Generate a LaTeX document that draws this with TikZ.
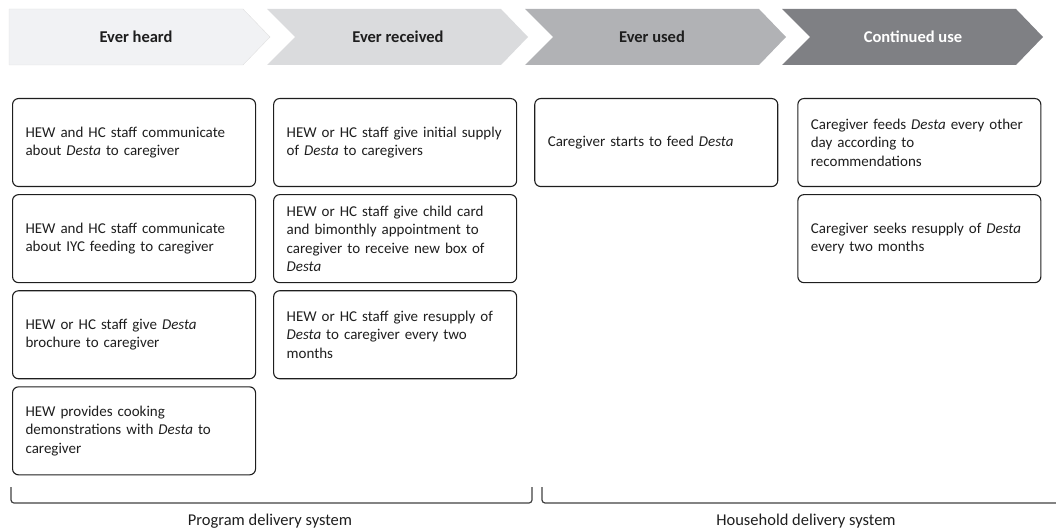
\documentclass[tikz,border=0pt]{standalone}
\usepackage{fontspec}
\setmainfont{Carlito}
\usepackage{tikz}
\usetikzlibrary{positioning}
\definecolor{stepA}{HTML}{F1F2F4}
\definecolor{stepB}{HTML}{DADBDD}
\definecolor{stepC}{HTML}{B1B2B5}
\definecolor{stepD}{HTML}{7F8084}
\definecolor{ink}{HTML}{1E1E1E}

\begin{document}
\begin{tikzpicture}[x=1pt, y=-1pt]
\tikzstyle{card}=[draw=ink, line width=1.1pt, rounded corners=6pt, rectangle, text width=217pt, inner sep=0pt, inner xsep=13pt, minimum height=88pt, align=left, text=ink, font=\fontsize{15}{18.5}\selectfont]
\tikzstyle{head}=[text=ink, font=\bfseries\fontsize{16.5}{20}\selectfont]
\tikzstyle{bracket}=[draw=black!75, line width=1.2pt, rounded corners=3pt]
\tikzstyle{system}=[text=ink, font=\fontsize{16.5}{19}\selectfont]
\useasboundingbox (0,0) rectangle (1056,529);

% stage arrows
\filldraw[fill=stepA, draw=black!12] (9,9) -- (243,9) -- (270,37) -- (243,65) -- (9,65) -- cycle;
\foreach \s/\c in {267/stepB, 525/stepC, 782/stepD}
  \fill[\c] (\s,9) -- ++(234,0) -- ++(27,28) -- ++(-27,28) -- ++(-234,0) -- ++(28,-28) -- cycle;
\node[head] (heard) at (136,37) {Ever heard};
\node[head] (received) at (398,37) {Ever received};
\node[head] (used) at (652,37) {Ever used};
\node[head, text=white] (continued) at (913,37) {Continued use};

% boxes
\node[card, anchor=north west] (h1) at (12,98) {HEW and HC staff communicate\\about \textit{Desta} to caregiver};
\node[card, below=7pt of h1] (h2) {HEW and HC staff communicate\\about IYC feeding to caregiver};
\node[card, below=7pt of h2] (h3) {HEW or HC staff give \textit{Desta}\\brochure to caregiver};
\node[card, below=7pt of h3] (h4) {HEW provides cooking\\demonstrations with \textit{Desta} to\\caregiver};

\node[card, right=17pt of h1] (r1) {HEW or HC staff give initial supply\\of \textit{Desta} to caregivers};
\node[card, below=7pt of r1] (r2) {HEW or HC staff give child card\\and bimonthly appointment to\\caregiver to receive new box of\\\textit{Desta}};
\node[card, below=7pt of r2] (r3) {HEW or HC staff give resupply of\\\textit{Desta} to caregiver every two\\months};

\node[card, right=17pt of r1] (u1) {Caregiver starts to feed \textit{Desta}};

\node[card, right=19pt of u1] (c1) {Caregiver feeds \textit{Desta} every other\\day according to\\recommendations};
\node[card, below=7pt of c1] (c2) {Caregiver seeks resupply of \textit{Desta}\\every two months};

% delivery systems
\coordinate (pl) at (11,487);
\coordinate (pr) at (532,487);
\coordinate (hl) at (542,487);
\coordinate (hr) at (1056,503);
\draw[bracket] (pl) -- (pl |- hr) -- (pr |- hr) -- (pr);
\draw[bracket] (hl) -- (hl |- hr) -- (hr);
\node[system] (program) at (270,521) {Program delivery system};
\node[system] (household) at (806,521) {Household delivery system};
\end{tikzpicture}
\end{document}
